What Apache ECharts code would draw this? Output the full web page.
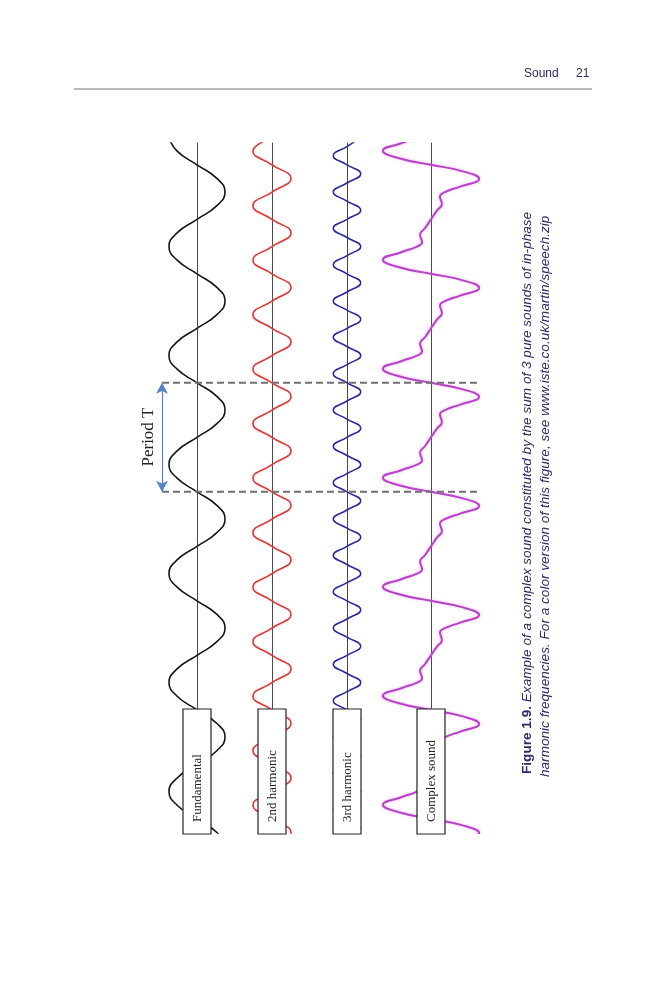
<!DOCTYPE html>
<html><head><meta charset="utf-8">
<script src="https://cdn.jsdelivr.net/npm/echarts@6/dist/echarts.min.js"></script>
<style>html,body{margin:0;padding:0;background:#fff}#c{width:666px;height:1000px}</style>
</head><body><div id="c"></div>
<script>
// ---- data (time in periods T, amplitude in units of the fundamental) ----
const waveNames = ['Fundamental', '2nd harmonic', '3rd harmonic', 'Complex sound'];
const periodBounds = [0, 1];

const timesA = [-3.25,-3.125,-3,-2.875,-2.75,-2.625,-2.5,-2.375,-2.25,-2.125,-2,-1.875,-1.75,-1.625,-1.5,-1.375,-1.25,-1.125,-1,-0.875,-0.75,-0.625,-0.5,-0.375,-0.25,-0.125,0,0.125,0.25,0.375,0.5,0.625,0.75,0.875,1,1.125,1.25,1.375,1.5,1.625,1.75,1.875,2,2.125,2.25,2.375,2.5,2.625,2.75,2.875,3,3.125,3.25];

const fundAmps = [-1,-0.71,0,0.71,1,0.71,0,-0.71, -1,-0.71,0,0.71,1,0.71,0,-0.71, -1,-0.71,0,0.71,1,0.71,0,-0.71, -1,-0.71,0,0.71,1,0.71,0,-0.71, -1,-0.71,0,0.71,1,0.71,0,-0.71, -1,-0.71,0,0.71,1,0.71,0,-0.71, -1,-0.71,0,0.71,1];

const harm2Amps = [0,-0.68,0,0.68, 0,-0.68,0,0.68, 0,-0.68,0,0.68, 0,-0.68,0,0.68, 0,-0.68,0,0.68, 0,-0.68,0,0.68, 0,-0.68,0,0.68, 0,-0.68,0,0.68, 0,-0.68,0,0.68, 0,-0.68,0,0.68, 0,-0.68,0,0.68, 0,-0.68,0,0.68, 0,-0.68,0,0.68, 0];

const timesB = [-3.25,-3.167,-3.083,-3,-2.917,-2.833,-2.75,-2.667,-2.583,-2.5,-2.417,-2.333,-2.25,-2.167,-2.083,-2,-1.917,-1.833,-1.75,-1.667,-1.583,-1.5,-1.417,-1.333,-1.25,-1.167,-1.083,-1,-0.917,-0.833,-0.75,-0.667,-0.583,-0.5,-0.417,-0.333,-0.25,-0.167,-0.083,0,0.083,0.167,0.25,0.333,0.417,0.5,0.583,0.667,0.75,0.833,0.917,1,1.083,1.167,1.25,1.333,1.417,1.5,1.583,1.667,1.75,1.833,1.917,2,2.083,2.167,2.25,2.333,2.417,2.5,2.583,2.667,2.75,2.833,2.917,3,3.083,3.167,3.25];

const harm3Amps = [0.49,0,-0.49,0, 0.49,0,-0.49,0, 0.49,0,-0.49,0, 0.49,0,-0.49,0, 0.49,0,-0.49,0, 0.49,0,-0.49,0, 0.49,0,-0.49,0, 0.49,0,-0.49,0, 0.49,0,-0.49,0, 0.49,0,-0.49,0, 0.49,0,-0.49,0, 0.49,0,-0.49,0, 0.49,0,-0.49,0, 0.49,0,-0.49,0, 0.49,0,-0.49,0, 0.49,0,-0.49,0, 0.49,0,-0.49,0, 0.49,0,-0.49,0, 0.49,0,-0.49,0, 0.49,0,-0.49];

const timesC = [-3.25,-3.2,-3.13,-3.06,
 -3,-2.94,-2.87,-2.8,-2.75,-2.71,-2.64,-2.58,-2.5,-2.42,-2.36,-2.29,-2.25,-2.2,-2.13,-2.06,
 -2,-1.94,-1.87,-1.8,-1.75,-1.71,-1.64,-1.58,-1.5,-1.42,-1.36,-1.29,-1.25,-1.2,-1.13,-1.06,
 -1,-0.94,-0.87,-0.8,-0.75,-0.71,-0.64,-0.58,-0.5,-0.42,-0.36,-0.29,-0.25,-0.2,-0.13,-0.06,
 0,0.06,0.13,0.2,0.25,0.29,0.36,0.42,0.5,0.58,0.64,0.71,0.75,0.8,0.87,0.94,
 1,1.06,1.13,1.2,1.25,1.29,1.36,1.42,1.5,1.58,1.64,1.71,1.75,1.8,1.87,1.94,
 2,2.06,2.13,2.2,2.25,2.29,2.36,2.42,2.5,2.58,2.64,2.71,2.75,2.8,2.87,2.94,
 3,3.06,3.13,3.2,3.25];

const complexAmps = [-0.5,-1.04,-1.72,-1.14,
 0,1.14,1.72,1.04,0.5,0.32,0.39,0.21,0,-0.21,-0.39,-0.32,-0.5,-1.04,-1.72,-1.14,
 0,1.14,1.72,1.04,0.5,0.32,0.39,0.21,0,-0.21,-0.39,-0.32,-0.5,-1.04,-1.72,-1.14,
 0,1.14,1.72,1.04,0.5,0.32,0.39,0.21,0,-0.21,-0.39,-0.32,-0.5,-1.04,-1.72,-1.14,
 0,1.14,1.72,1.04,0.5,0.32,0.39,0.21,0,-0.21,-0.39,-0.32,-0.5,-1.04,-1.72,-1.14,
 0,1.14,1.72,1.04,0.5,0.32,0.39,0.21,0,-0.21,-0.39,-0.32,-0.5,-1.04,-1.72,-1.14,
 0,1.14,1.72,1.04,0.5,0.32,0.39,0.21,0,-0.21,-0.39,-0.32,-0.5,-1.04,-1.72,-1.14,
 0,1.14,1.72,1.04,0.5];

const captionLine1 = ['Figure 1.9.', 'Example of a complex sound constituted by the sum of 3 pure sounds of in-phase'];
const captionLine2 = 'harmonic frequencies. For a color version of this figure, see www.iste.co.uk/martin/speech.zip';
const headerTitle = 'Sound';
const headerPage = '21';

// ---- layout / style ----
const pairs = (amps, times) => amps.map((a, i) => [a, times[i]]);
const waves = [pairs(fundAmps, timesA), pairs(harm2Amps, timesA), pairs(harm3Amps, timesB), pairs(complexAmps, timesC)];
const colors = ['#151515', '#d43a3a', '#2a2a9c', '#b544c6'];
const widths = [1.6, 1.6, 1.6, 2];
const glow = ['transparent', 'rgba(255,150,150,0.35)', 'transparent', 'rgba(240,130,240,0.6)'];
const centers = [197, 272, 347, 431];
const ranges = [1.3, 1.3, 1.3, 2.0];
const PX = 28;            // px per amplitude unit
const TOP = 143, H = 690, TMIN = -3.13, TMAX = 3.2;

const grids = [], xAxes = [], yAxes = [], series = [];
for (let i = 0; i < 4; i++) {
  grids.push({left: centers[i] - ranges[i] * PX, top: TOP, width: 2 * ranges[i] * PX, height: H});
  xAxes.push({type: 'value', gridIndex: i, min: -ranges[i], max: ranges[i], inverse: true, show: false});
  yAxes.push({type: 'value', gridIndex: i, min: TMIN, max: TMAX,
    axisLine: {show: true, onZero: true, lineStyle: {color: '#4a4a4a', width: 1}},
    axisTick: {show: false}, axisLabel: {show: false}, splitLine: {show: false}});
  series.push({type: 'line', name: waveNames[i], xAxisIndex: i, yAxisIndex: i, data: waves[i],
    smooth: 0.5, symbol: 'none', clip: true, z: 2,
    lineStyle: {color: colors[i], width: widths[i], shadowColor: glow[i], shadowBlur: glow[i] === 'transparent' ? 0 : 3}});
}
// overlay grid for period markers
grids.push({left: 162, top: TOP, width: 316, height: H});
xAxes.push({type: 'value', gridIndex: 4, min: 0, max: 1, show: false});
yAxes.push({type: 'value', gridIndex: 4, min: TMIN, max: TMAX, show: false});
periodBounds.forEach((b, k) => {
  const s = {type: 'line', xAxisIndex: 4, yAxisIndex: 4, data: [[0, b], [1, b]], symbol: 'none', z: 4,
    lineStyle: {color: '#707070', width: 2, type: [7, 4]}};
  if (k === 0) {
    s.markLine = {silent: true, symbol: ['arrow', 'arrow'], symbolSize: [9, 11], label: {show: false},
      lineStyle: {color: '#5a82c4', width: 1.2, type: 'solid'},
      data: [[{coord: [0, periodBounds[0]]}, {coord: [0, periodBounds[1]]}]]};
  }
  series.push(s);
});

const serif = '"Liberation Serif", "Times New Roman", serif';
const sans = '"Liberation Sans", Arial, sans-serif';
const capSize = 13.6;
const graphic = [];
// header
graphic.push({type: 'text', x: 524, y: 74, style: {text: headerTitle, font: '12px ' + sans, fill: '#2b2b5c', textVerticalAlign: 'middle', verticalAlign: 'middle'}});
graphic.push({type: 'text', x: 576, y: 74, style: {text: headerPage, font: '12px ' + sans, fill: '#2b2b5c', textVerticalAlign: 'middle', verticalAlign: 'middle'}});
graphic.push({type: 'line', shape: {x1: 74, y1: 89, x2: 592, y2: 89}, style: {stroke: '#7a7a7a', lineWidth: 1}});
// label boxes
for (let i = 0; i < 4; i++) {
  graphic.push({type: 'rect', z: 10, shape: {x: centers[i] - 14, y: 709, width: 28, height: 125},
    style: {fill: '#fff', stroke: '#222', lineWidth: 1.2}});
  graphic.push({type: 'text', z: 11, x: centers[i] + 0.5, y: 822, rotation: Math.PI / 2,
    style: {text: waveNames[i], font: '13px ' + serif, fill: '#222',
      textAlign: 'left', align: 'left', textVerticalAlign: 'middle', verticalAlign: 'middle'}});
}
// period label
graphic.push({type: 'text', z: 11, x: 149, y: 437, rotation: Math.PI / 2,
  style: {text: 'Period T', font: '17px ' + serif, fill: '#222',
    textAlign: 'center', align: 'center', textVerticalAlign: 'middle', verticalAlign: 'middle'}});
// caption
graphic.push({type: 'text', z: 11, x: 527, y: 774, rotation: Math.PI / 2,
  style: {text: '{b|' + captionLine1[0] + '} {i|' + captionLine1[1] + '}', fill: '#2a2a66',
    font: capSize + 'px ' + sans, textAlign: 'left', align: 'left', textVerticalAlign: 'middle', verticalAlign: 'middle',
    rich: {b: {fontWeight: 'bold', fontSize: capSize, fontFamily: sans, fill: '#2a2a66'},
           i: {fontStyle: 'italic', fontSize: capSize, fontFamily: sans, fill: '#2a2a66'}}}});
graphic.push({type: 'text', z: 11, x: 545, y: 777, rotation: Math.PI / 2,
  style: {text: captionLine2, fill: '#2a2a66', font: 'italic ' + capSize + 'px ' + sans,
    textAlign: 'left', align: 'left', textVerticalAlign: 'middle', verticalAlign: 'middle'}});

const chart = echarts.init(document.getElementById('c'));
chart.setOption({animation: false, backgroundColor: '#fff', grid: grids, xAxis: xAxes, yAxis: yAxes, series: series, graphic: graphic});
</script></body></html>
